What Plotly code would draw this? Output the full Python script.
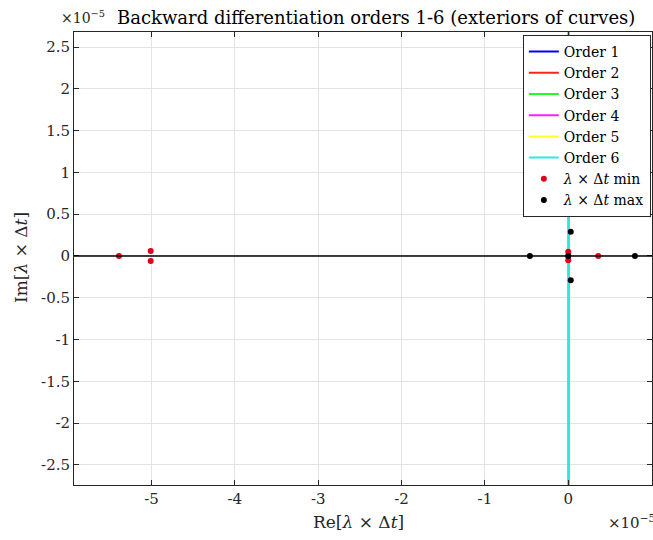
import plotly.graph_objects as go

# ---- data (all values in units of 1e-5) ----
order_names = ["Order 1", "Order 2", "Order 3", "Order 4", "Order 5", "Order 6"]
order_colors = ["#0000ff", "#ff2020", "#20ff20", "#ff20ff", "#ffff20", "#2ee8dc"]
# stability-boundary curves: at this zoom they all coincide with the imaginary axis
order_re = [0.0, 0.0]
order_im = [-3.0, 3.0]

min_re = [-5.39, -5.01, -5.01, 0.0, 0.0, 0.0, 0.36]
min_im = [0.0, 0.06, -0.06, 0.05, -0.05, 0.0, 0.0]

max_re = [-0.46, 0.0, 0.03, 0.03, 0.80]
max_im = [0.0, 0.0, 0.29, -0.29, 0.0]

x_ticks = [-5, -4, -3, -2, -1, 0, 1]
x_ticklabels = ["-5", "-4", "-3", "-2", "-1", "0", "1"]
y_ticks = [-2.5, -2, -1.5, -1, -0.5, 0, 0.5, 1, 1.5, 2, 2.5]
y_ticklabels = ["-2.5", "-2", "-1.5", "-1", "-0.5", "0", "0.5", "1", "1.5", "2", "2.5"]

FONT = "DejaVu Serif"
AX = "#262626"

fig = go.Figure()
for name, col in zip(order_names, order_colors):
    fig.add_trace(go.Scatter(x=order_re, y=order_im, mode="lines", name=name,
                             line=dict(color=col, width=2)))
fig.add_trace(go.Scatter(x=min_re, y=min_im, mode="markers",
                         name="<i>λ</i> × Δ<i>t</i> min",
                         marker=dict(color="#e0001b", size=6)))
fig.add_trace(go.Scatter(x=max_re, y=max_im, mode="markers",
                         name="<i>λ</i> × Δ<i>t</i> max",
                         marker=dict(color="#000000", size=6)))

L, R, T, B = 74, 1, 32, 55
W, H = 653, 540

def px_x(p):
    return (p - L) / (W - L - R)

def px_y(p):
    return (H - B - p) / (H - T - B)

fig.update_layout(
    width=W, height=H,
    margin=dict(l=L, r=R, t=T, b=B),
    plot_bgcolor="white", paper_bgcolor="white",
    font=dict(family=FONT, size=15, color=AX),
    showlegend=True,
    legend=dict(x=0.998, y=px_y(35), xanchor="right", yanchor="top",
                bgcolor="white", bordercolor=AX, borderwidth=1,
                font=dict(family=FONT, size=14, color="black"),
                tracegroupgap=0, itemwidth=30),
    shapes=[dict(type="line", xref="paper", yref="y", x0=0, x1=1, y0=0, y1=0,
                 line=dict(color="black", width=1.5), layer="above")],
)
fig.update_xaxes(range=[-5.93, 1.005], tickvals=x_ticks, ticktext=x_ticklabels,
                 showgrid=True, gridcolor="#e3e3e3", gridwidth=1,
                 zeroline=False, showline=True, linecolor=AX, linewidth=1,
                 mirror="ticks", ticks="inside", ticklen=5, tickcolor=AX,
                 tickfont=dict(family=FONT, size=15, color=AX))
fig.update_yaxes(range=[-2.74, 2.68], tickvals=y_ticks, ticktext=y_ticklabels,
                 showgrid=True, gridcolor="#e3e3e3", gridwidth=1,
                 zeroline=False, showline=True, linecolor=AX, linewidth=1,
                 mirror="ticks", ticks="inside", ticklen=5, tickcolor=AX,
                 tickfont=dict(family=FONT, size=15, color=AX))

annos = [
    dict(text="Backward differentiation orders 1-6 (exteriors of curves)",
         x=px_x(376), y=px_y(17), xanchor="center", font=dict(size=18, color="black")),
    dict(text="×10<sup>−5</sup>", x=px_x(59), y=px_y(17), xanchor="left",
         font=dict(size=14, color=AX)),
    dict(text="Re[<i>λ</i> × Δ<i>t</i>]", x=px_x(358), y=px_y(522), xanchor="center",
         font=dict(size=17, color=AX)),
    dict(text="Im[<i>λ</i> × Δ<i>t</i>]", x=px_x(21), y=px_y(258), xanchor="center",
         textangle=-90, font=dict(size=17, color=AX)),
    dict(text="×10<sup>−5</sup>", x=px_x(606), y=px_y(522), xanchor="left",
         font=dict(size=15, color=AX)),
]
for a in annos:
    a.update(xref="paper", yref="paper", showarrow=False, yanchor="middle")
    a["font"]["family"] = FONT
fig.update_layout(annotations=annos)

fig.write_html("out.html")
